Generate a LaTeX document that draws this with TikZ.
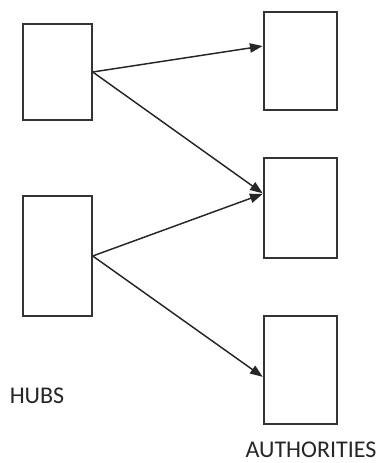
\documentclass[tikz,border=0pt]{standalone}
\usepackage{fontspec}
\setmainfont{Carlito}
\usepackage{tikz}
\usetikzlibrary{arrows.meta}

\begin{document}
\begin{tikzpicture}[
    x=0.75pt, y=-0.75pt,
    box/.style={rectangle, draw=black!80, line width=1.1pt, fill=white, inner sep=0pt},
    arrow/.style={-{Triangle[length=9.5pt,width=7pt]}, draw=black!85, line width=1.1pt, shorten >=0.5pt},
    label/.style={font=\fontsize{18}{20}\selectfont, text=black!85, inner sep=0pt}
]
    \useasboundingbox (0,0) rectangle (380,463);

    % hubs on the left
    \node[box, minimum width=51.75pt, minimum height=72pt] (hubA) at (57.5,72) {};
    \node[box, minimum width=51.75pt, minimum height=90pt] (hubB) at (57.5,256) {};

    % authorities on the right
    \node[box, minimum width=54.75pt, minimum height=73.5pt] (authA) at (300.5,61) {};
    \node[box, minimum width=54.75pt, minimum height=75pt] (authB) at (300.5,208) {};
    \node[box, minimum width=54.75pt, minimum height=81pt] (authC) at (300.5,370) {};

    \draw[arrow] (hubA.east) -- (authA.158);
    \draw[arrow] (hubA.east) -- (authB.159);
    \draw[arrow] (hubB.east) -- (authB.159);
    \draw[arrow] (hubB.east) -- (authC.191);

    \node[label] (hubs) at (37,396) {HUBS};
    \node[label] (auths) at (311,450) {AUTHORITIES};
\end{tikzpicture}
\end{document}
